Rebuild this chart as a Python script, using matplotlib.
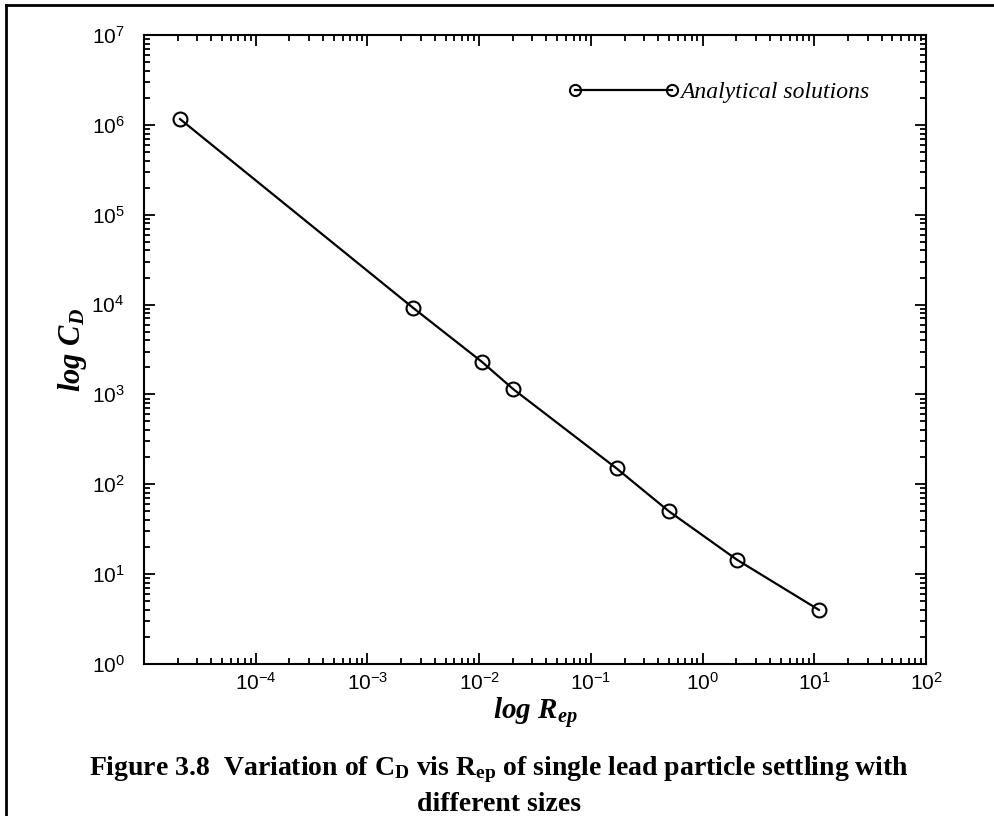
import matplotlib
matplotlib.use("Agg")
import matplotlib.pyplot as plt
from matplotlib.lines import Line2D

plt.rcParams['mathtext.fontset'] = 'custom'
plt.rcParams['mathtext.rm'] = 'Liberation Sans'
plt.rcParams['mathtext.it'] = 'Liberation Serif:italic:bold'
plt.rcParams['mathtext.bf'] = 'Liberation Serif:bold'

# data
re_ep = [2.1e-5, 2.56e-3, 1.06e-2, 2.01e-2, 0.17, 0.50, 2.04, 11.0]
c_d = [1.16e6, 9.2e3, 2.3e3, 1.15e3, 150, 50, 14.4, 4.0]

x_ticks = [1e-4, 1e-3, 1e-2, 1e-1, 1e0, 1e1, 1e2]
x_ticklabels = [r'$10^{-4}$', r'$10^{-3}$', r'$10^{-2}$', r'$10^{-1}$',
                r'$10^{0}$', r'$10^{1}$', r'$10^{2}$']
y_ticks = [1e0, 1e1, 1e2, 1e3, 1e4, 1e5, 1e6, 1e7]
y_ticklabels = [r'$10^{0}$', r'$10^{1}$', r'$10^{2}$', r'$10^{3}$',
                r'$10^{4}$', r'$10^{5}$', r'$10^{6}$', r'$10^{7}$']
legend_label = 'Analytical solutions'
caption1 = r'Figure 3.8  Variation of C$_\mathbf{D}$ vis R$_\mathbf{ep}$ of single lead particle settling with'
caption2 = 'different sizes'

fig = plt.figure(figsize=(9.94, 8.16), dpi=100)
ax = fig.add_axes([0.1449, 0.1863, 0.7867, 0.7708])

ax.loglog(re_ep, c_d, 'o-', color='black', lw=1.6, ms=10, mfc='none',
          mew=1.5, label=legend_label)
ax.set_xlim(1e-5, 1e2)
ax.set_ylim(1e0, 1e7)
ax.set_xticks(x_ticks, x_ticklabels)
ax.set_yticks(y_ticks, y_ticklabels)

ax.tick_params(which='both', direction='in', top=True, right=True, width=1.3)
ax.tick_params(which='major', length=8, labelsize=15)
ax.tick_params(which='minor', length=4)
ax.tick_params(axis='x', pad=6)
ax.tick_params(axis='y', pad=14)
for s in ax.spines.values():
    s.set_linewidth(1.5)

ax.set_xlabel(r'$log\ R_{ep}$', fontsize=21, labelpad=2)
ax.set_ylabel(r'$log\ C_{D}$', fontsize=22, labelpad=2)

ax.legend(loc='center left', bbox_to_anchor=(0.542, 0.909), frameon=False,
          numpoints=2, handlelength=4.7, handletextpad=0.05, borderpad=0,
          borderaxespad=0, markerscale=0.8,
          prop={'family': 'Liberation Serif', 'style': 'italic', 'size': 17})

fig.text(0.502, 1 - 775 / 816, caption1, ha='center', va='baseline',
         family='Liberation Serif', weight='bold', fontsize=20)
fig.text(0.502, 1 - 811 / 816, caption2, ha='center', va='baseline',
         family='Liberation Serif', weight='bold', fontsize=20)

# page frame (left and top edges of the scanned box)
fig.add_artist(Line2D([0.006, 0.006], [0, 0.994], color='black', lw=2))
fig.add_artist(Line2D([0.006, 1], [0.994, 0.994], color='black', lw=2))

fig.savefig('out.png', dpi=100)
